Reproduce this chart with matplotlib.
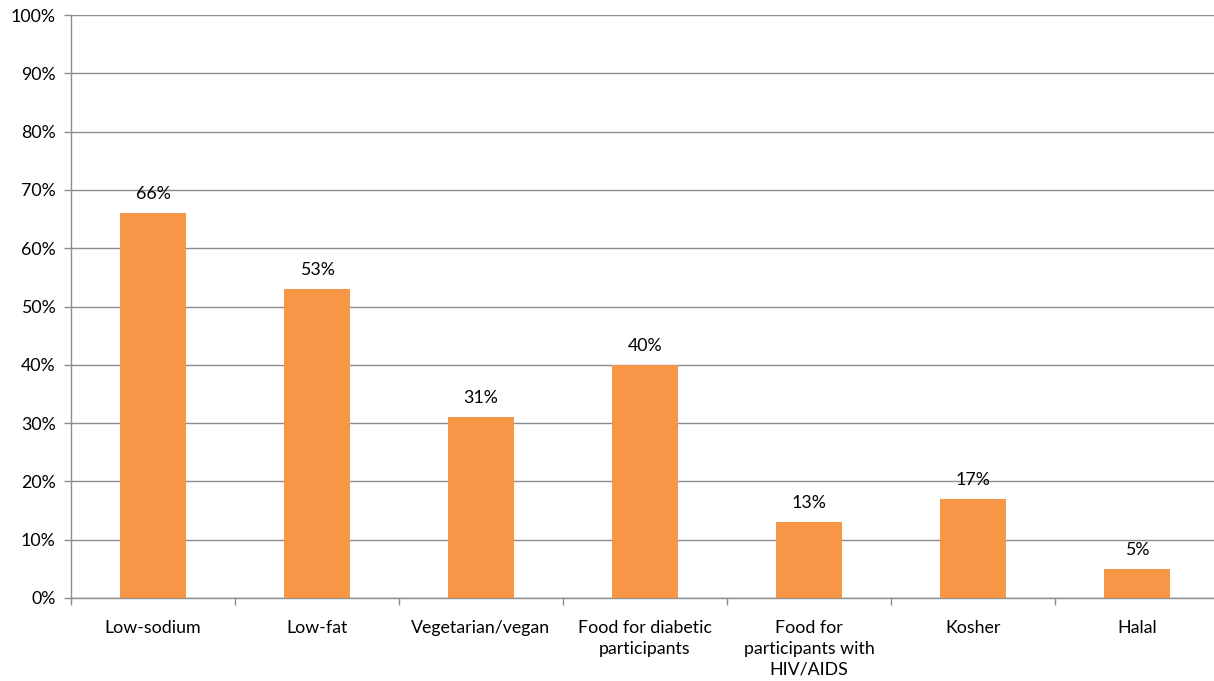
import matplotlib
matplotlib.use("Agg")
import matplotlib.pyplot as plt
import numpy as np

# data
categories = ["Low-sodium", "Low-fat", "Vegetarian/vegan", "Food for diabetic\nparticipants",
              "Food for\nparticipants with\nHIV/AIDS", "Kosher", "Halal"]
values = [66, 53, 31, 40, 13, 17, 5]

plt.rcParams['font.family'] = ['Lato', 'DejaVu Sans']
fs = 12.8

fig = plt.figure(figsize=(12.14, 6.81), dpi=100)
ax = fig.add_axes([71/1214, 1-598/681, 1148/1214, 583/681])

x = np.arange(len(categories))
ax.bar(x, values, width=0.4, color="#F79646", zorder=3)

for xi, v in zip(x, values):
    ax.text(xi, v + 1.9, "%d%%" % v, ha="center", va="bottom", fontsize=fs, color="black")

ax.set_xlim(-0.5, len(categories) - 0.5)
ax.set_ylim(0, 100)
ax.set_yticks(np.arange(0, 101, 10))
ax.set_yticklabels(["%d%%" % t for t in range(0, 101, 10)], fontsize=fs)
ax.yaxis.grid(True, color="#8c8c8c", linewidth=1, zorder=0)

ax.set_xticks(x)
ax.set_xticklabels(categories, fontsize=fs, linespacing=1.35, va="top")
ax.set_xticks(np.arange(-0.5, len(categories), 1), minor=True)
ax.tick_params(axis="x", which="major", length=0, pad=16)
ax.tick_params(axis="x", which="minor", length=5, color="#8c8c8c", width=1)
ax.tick_params(axis="y", length=5, color="#8c8c8c", width=1, pad=6)

for s in ["top", "right"]:
    ax.spines[s].set_visible(False)
for s in ["left", "bottom"]:
    ax.spines[s].set_color("#8c8c8c")
    ax.spines[s].set_linewidth(1)

fig.savefig("out.png", dpi=100)
